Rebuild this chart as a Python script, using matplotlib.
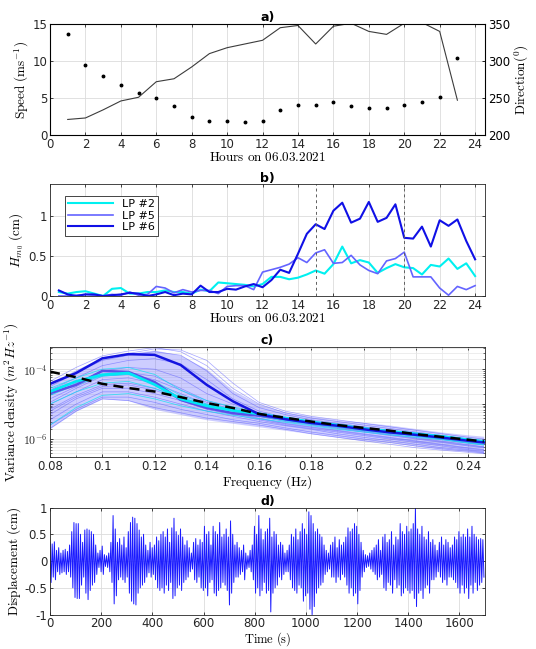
import numpy as np
import matplotlib
matplotlib.use("Agg")
import matplotlib.pyplot as plt
from matplotlib.ticker import LogLocator, MultipleLocator, FixedLocator, NullFormatter

plt.rcParams["mathtext.fontset"] = "cm"
plt.rcParams["font.family"] = "DejaVu Sans"
plt.rcParams["font.size"] = 8.5

# ---------------- a) wind speed / direction ----------------
hours_a = list(range(1, 24))
speed = [13.6, 9.5, 8.0, 6.7, 5.7, 5.0, 3.9, 2.4, 1.9, 1.9, 1.7, 1.9,
         3.4, 4.1, 4.1, 4.5, 3.9, 3.7, 3.7, 4.1, 4.4, 5.1, 10.4]
direction = [221, 223, 234, 246, 251, 272, 276, 292, 310, 318, 323, 328,
             345, 348, 323, 347, 351, 340, 336, 351, 352, 340, 247]

# ---------------- b) Hm0 at three points ----------------
hours_b = [0.5 * k for k in range(1, 49)]
lp2 = [0.05, 0.03, 0.05, 0.06, 0.03, 0.00, 0.09, 0.10, 0.03, 0.03, 0.05, 0.05,
       0.07, 0.05, 0.05, 0.03, 0.08, 0.06, 0.17, 0.16, 0.15, 0.14, 0.12, 0.15,
       0.24, 0.24, 0.21, 0.23, 0.27, 0.32, 0.28, 0.40, 0.62, 0.41, 0.45, 0.42,
       0.29, 0.35, 0.40, 0.36, 0.35, 0.27, 0.39, 0.37, 0.47, 0.34, 0.41, 0.25]
lp5 = [0.00, 0.00, 0.01, 0.02, 0.01, 0.00, 0.02, 0.01, 0.05, 0.01, 0.02, 0.12,
       0.10, 0.04, 0.08, 0.05, 0.07, 0.07, 0.03, 0.12, 0.13, 0.13, 0.08, 0.30,
       0.33, 0.36, 0.40, 0.48, 0.42, 0.54, 0.58, 0.41, 0.42, 0.51, 0.39, 0.32,
       0.28, 0.44, 0.47, 0.55, 0.24, 0.24, 0.24, 0.10, 0.01, 0.12, 0.08, 0.13]
lp6 = [0.07, 0.02, 0.00, 0.02, 0.02, 0.00, 0.01, 0.02, 0.04, 0.03, 0.00, 0.02,
       0.05, 0.01, 0.03, 0.02, 0.13, 0.05, 0.05, 0.09, 0.08, 0.12, 0.15, 0.11,
       0.20, 0.33, 0.29, 0.53, 0.78, 0.90, 0.84, 1.07, 1.17, 0.92, 0.97, 1.18,
       0.93, 0.98, 1.15, 0.73, 0.72, 0.87, 0.62, 0.95, 0.88, 0.96, 0.69, 0.46]

# ---------------- c) spectra (log10 of m^2/Hz) ----------------
freq = [0.08, 0.09, 0.10, 0.11, 0.12, 0.13, 0.14, 0.15, 0.16,
        0.17, 0.18, 0.19, 0.20, 0.21, 0.22, 0.23, 0.24, 0.246]
thin_blue = [
    [-4.35, -3.95, -3.62, -3.48, -3.38, -3.5, -3.9, -4.55, -5.0, -5.25, -5.4, -5.5, -5.6, -5.7, -5.8, -5.9, -6.0, -6.05],
    [-4.5, -4.1, -3.75, -3.6, -3.5, -3.6, -4.05, -4.7, -5.1, -5.3, -5.45, -5.55, -5.65, -5.75, -5.85, -5.95, -6.05, -6.1],
    [-4.6, -4.25, -3.9, -3.75, -3.7, -3.85, -4.3, -4.85, -5.2, -5.38, -5.5, -5.6, -5.7, -5.8, -5.9, -6.0, -6.1, -6.15],
    [-4.75, -4.4, -4.05, -3.95, -4.0, -4.25, -4.7, -5.0, -5.25, -5.4, -5.52, -5.62, -5.72, -5.82, -5.92, -6.02, -6.12, -6.17],
    [-4.85, -4.5, -4.15, -4.1, -4.2, -4.55, -4.9, -5.1, -5.3, -5.45, -5.56, -5.66, -5.76, -5.86, -5.96, -6.06, -6.16, -6.22],
    [-5.0, -4.65, -4.3, -4.25, -4.4, -4.7, -5.0, -5.2, -5.35, -5.5, -5.6, -5.7, -5.8, -5.9, -6.0, -6.1, -6.2, -6.25],
    [-5.15, -4.75, -4.45, -4.4, -4.55, -4.8, -5.05, -5.25, -5.4, -5.55, -5.65, -5.75, -5.85, -5.95, -6.05, -6.15, -6.25, -6.3],
    [-5.3, -4.85, -4.55, -4.55, -4.7, -4.9, -5.15, -5.3, -5.45, -5.6, -5.7, -5.8, -5.9, -6.0, -6.1, -6.2, -6.3, -6.35],
    [-5.45, -5.0, -4.65, -4.65, -4.8, -5.0, -5.2, -5.35, -5.5, -5.62, -5.72, -5.85, -5.95, -6.05, -6.15, -6.25, -6.32, -6.38],
    [-5.6, -5.15, -4.8, -4.8, -4.95, -5.15, -5.3, -5.45, -5.55, -5.68, -5.8, -5.9, -6.0, -6.1, -6.2, -6.28, -6.35, -6.4],
    [-4.95, -4.55, -4.2, -4.15, -4.3, -4.6, -4.95, -5.15, -5.32, -5.47, -5.58, -5.68, -5.78, -5.88, -5.98, -6.08, -6.18, -6.23],
    [-5.2, -4.8, -4.5, -4.45, -4.6, -4.85, -5.1, -5.27, -5.42, -5.57, -5.67, -5.77, -5.87, -5.97, -6.07, -6.17, -6.27, -6.32],
    [-4.45, -4.05, -3.7, -3.55, -3.42, -3.45, -3.75, -4.4, -4.95, -5.2, -5.35, -5.45, -5.55, -5.65, -5.75, -5.85, -5.95, -6.0],
    [-5.7, -5.2, -4.85, -4.9, -5.1, -5.25, -5.4, -5.5, -5.6, -5.72, -5.85, -5.95, -6.05, -6.15, -6.25, -6.32, -6.38, -6.42],
]
thin_cyan = [
    [-4.55, -4.25, -4.0, -3.95, -4.15, -4.6, -4.9, -5.08, -5.25, -5.4, -5.5, -5.6, -5.68, -5.76, -5.84, -5.9, -6.0, -6.05],
    [-4.75, -4.45, -4.2, -4.15, -4.35, -4.75, -5.0, -5.15, -5.3, -5.45, -5.55, -5.63, -5.72, -5.8, -5.88, -5.95, -6.05, -6.1],
    [-5.0, -4.65, -4.4, -4.35, -4.55, -4.85, -5.05, -5.2, -5.35, -5.48, -5.58, -5.67, -5.76, -5.84, -5.92, -6.0, -6.1, -6.15],
    [-5.6, -5.1, -4.75, -4.7, -4.85, -5.05, -5.2, -5.32, -5.42, -5.52, -5.62, -5.72, -5.8, -5.88, -5.95, -6.02, -6.12, -6.17],
]
band_hi = [-4.42, -4.05, -3.7, -3.55, -3.45, -3.6, -4.0, -4.6, -5.0, -5.22, -5.35, -5.45, -5.52, -5.6, -5.7, -5.8, -5.88, -5.92]
band_lo = [-5.7, -5.2, -4.85, -4.9, -5.15, -5.3, -5.45, -5.55, -5.65, -5.75, -5.85, -5.95, -6.05, -6.1, -6.2, -6.3, -6.35, -6.4]
spec_lp6 = [-4.42, -4.11, -3.69, -3.57, -3.59, -3.88, -4.45, -4.92, -5.29, -5.43, -5.54, -5.62, -5.72, -5.81, -5.88, -5.96, -6.05, -6.1]
spec_lp5 = [-4.69, -4.45, -4.05, -4.08, -4.37, -4.88, -5.11, -5.26, -5.33, -5.42, -5.52, -5.6, -5.7, -5.78, -5.86, -5.94, -6.03, -6.08]
spec_lp2 = [-4.64, -4.35, -4.16, -4.11, -4.44, -4.85, -5.05, -5.18, -5.28, -5.4, -5.51, -5.6, -5.7, -5.78, -5.85, -5.93, -6.02, -6.07]
spec_ref = [-4.07, -4.23, -4.42, -4.54, -4.64, -4.8, -4.97, -5.11, -5.28, -5.39, -5.5, -5.6, -5.68, -5.76, -5.86, -5.94, -6.02, -6.07]

# ---------------- d) displacement record: crest / trough of each wave ----------------
crest = [0.35, 0.32, 0.36, 0.20, 0.25, 0.15, 0.20, 0.22, 0.18, 0.30,
         0.55, 0.72, 0.70, 0.70, 0.50, 0.35, 0.58, 0.60, 0.58, 0.55,
         0.50, 0.30, 0.15, 0.20, 0.28, 0.12, 0.10, 0.15, 0.35, 0.85,
         0.60, 0.35, 0.42, 0.30, 0.45, 0.25, 0.55, 0.72, 0.82, 0.80,
         0.70, 0.58, 0.45, 0.50, 0.30, 0.20, 0.35, 0.25, 0.30, 0.45,
         0.38, 0.50, 0.55, 0.45, 0.60, 0.35, 0.62, 0.80, 0.55, 0.48,
         0.60, 0.45, 0.30, 0.38, 0.25, 0.15, 0.35, 0.42, 0.30, 0.40,
         0.35, 0.65, 0.50, 0.55, 0.30, 0.65, 0.55, 0.50, 0.72, 0.45,
         0.50, 0.60, 0.45, 0.75, 0.50, 0.30, 0.35, 0.25, 0.20, 0.30,
         0.15, 0.10, 0.20, 0.30, 0.65, 0.50, 0.85, 0.60, 0.40, 0.55,
         0.60, 0.80, 0.45, 0.55, 0.50, 0.30, 0.35, 0.30, 0.15, 0.20,
         0.30, 0.50, 0.45, 0.60, 0.40, 0.55, 0.70, 0.60, 0.50, 0.92,
         0.85, 0.70, 0.55, 0.60, 0.50, 0.45, 0.30, 0.20, 0.15, 0.30,
         0.35, 0.45, 0.25, 0.40, 0.30, 0.35, 0.45, 0.62, 0.55, 0.60,
         0.70, 0.65, 0.50, 0.35, 0.20, 0.12, 0.10, 0.15, 0.20, 0.25,
         0.30, 0.40, 0.20, 0.45, 0.50, 0.35, 0.40, 0.55, 0.30, 0.45,
         0.40, 0.70, 0.55, 0.50, 0.65, 0.55, 0.60, 0.70, 1.00, 0.60,
         0.50, 0.65, 0.45, 0.40, 0.55, 0.35, 0.40, 0.30, 0.20, 0.35,
         0.45, 0.30, 0.40, 0.35, 0.25, 0.30, 0.45, 0.40, 0.55, 0.45,
         0.50, 0.45, 0.60, 0.45, 0.65, 0.50, 0.45, 0.40, 0.42, 0.40]
trough = [-0.40, -0.30, -0.35, -0.20, -0.25, -0.22, -0.20, -0.25, -0.20, -0.30,
          -0.50, -0.68, -0.70, -0.70, -0.45, -0.30, -0.60, -0.72, -0.55, -0.45,
          -0.40, -0.25, -0.12, -0.20, -0.25, -0.10, -0.12, -0.20, -0.40, -0.80,
          -0.65, -0.35, -0.30, -0.35, -0.40, -0.30, -0.60, -0.75, -0.80, -0.82,
          -0.60, -0.50, -0.45, -0.40, -0.30, -0.22, -0.30, -0.25, -0.35, -0.50,
          -0.55, -0.50, -0.60, -0.45, -0.55, -0.40, -0.70, -0.65, -0.50, -0.45,
          -0.55, -0.40, -0.35, -0.30, -0.20, -0.15, -0.35, -0.40, -0.30, -0.50,
          -0.55, -0.50, -0.65, -0.40, -0.35, -0.60, -0.65, -0.55, -0.50, -0.40,
          -0.45, -0.55, -0.82, -0.60, -0.40, -0.30, -0.30, -0.25, -0.20, -0.35,
          -0.15, -0.12, -0.20, -0.35, -0.60, -0.50, -0.65, -0.55, -0.40, -0.60,
          -0.55, -0.95, -0.60, -0.50, -0.45, -0.30, -0.35, -0.25, -0.20, -0.20,
          -0.35, -0.50, -0.55, -0.60, -0.45, -0.50, -0.75, -0.65, -0.60, -0.90,
          -1.00, -0.85, -0.60, -0.50, -0.45, -0.40, -0.25, -0.20, -0.15, -0.30,
          -0.30, -0.40, -0.30, -0.35, -0.25, -0.30, -0.45, -0.60, -0.50, -0.65,
          -0.60, -0.80, -0.55, -0.30, -0.20, -0.12, -0.10, -0.15, -0.20, -0.25,
          -0.35, -0.30, -0.25, -0.50, -0.55, -0.40, -0.45, -0.60, -0.35, -0.50,
          -0.45, -0.65, -0.60, -0.50, -0.55, -0.60, -0.55, -0.70, -0.85, -0.60,
          -0.55, -0.70, -0.50, -0.45, -0.60, -0.35, -0.35, -0.30, -0.20, -0.30,
          -0.40, -0.35, -0.45, -0.30, -0.30, -0.35, -0.40, -0.50, -0.60, -0.45,
          -0.60, -0.50, -0.70, -0.45, -0.60, -0.40, -0.55, -0.45, -0.40, -0.30]
wave_dt = 8.5  # s per wave


def matlab_box(ax):
    ax.tick_params(direction="in", length=2.5, width=0.6, top=True, right=True,
                   colors="#262626", labelsize=8.5, pad=2)
    for s in ax.spines.values():
        s.set_color("#262626")
        s.set_linewidth(0.6)
    ax.grid(True, color="#dcdcdc", linewidth=0.6)
    ax.set_axisbelow(True)


def serif_label(txt):
    return r"$\mathrm{" + txt + "}$"


fig = plt.figure(figsize=(5.36, 6.49), dpi=100)
L, W = 0.0933, 0.8116

# a)
ax1 = fig.add_axes([L, 0.792, W, 0.171])
matlab_box(ax1)
ax1.tick_params(right=False)
ax1.plot(hours_a, speed, "o", color="black", markersize=1.8)
ax1.set_xlim(0, 24.56)
ax1.set_ylim(0, 15)
ax1.set_xticks(range(0, 25, 2))
ax1.set_yticks([0, 5, 10, 15])
ax1.set_ylabel(r"$\mathrm{Speed\ (ms^{-1})}$", fontsize=9.5, labelpad=1)
ax1.set_xlabel(serif_label(r"Hours\ on\ 06.03.2021"), fontsize=9.5, labelpad=0)
ax1.set_title("a)", fontweight="bold", fontsize=9, pad=2)
ax1b = ax1.twinx()
ax1b.plot(hours_a, direction, color="#3c3c3c", linewidth=0.8)
ax1b.set_ylim(200, 350)
ax1b.set_yticks([200, 250, 300, 350])
ax1b.tick_params(direction="in", length=2.5, width=0.6, labelsize=8.5, pad=2)
ax1b.set_ylabel(r"$\mathrm{Direction(^0)}$", fontsize=9.5, labelpad=2)

# b)
ax2 = fig.add_axes([L, 0.5439, W, 0.172])
matlab_box(ax2)
ax2.plot(hours_b, lp2, color="#00f0f0", linewidth=1.5, label="LP #2")
ax2.plot(hours_b, lp5, color="#6464ff", linewidth=1.2, label="LP #5")
ax2.plot(hours_b, lp6, color="#1010e6", linewidth=1.5, label="LP #6")
for xv in (15, 20):
    ax2.axvline(xv, color="#606060", linestyle=(0, (3, 3)), linewidth=0.7)
ax2.set_xlim(0, 24.56)
ax2.set_ylim(0, 1.4)
ax2.set_xticks(range(0, 25, 2))
ax2.set_yticks([0, 0.5, 1])
ax2.set_yticklabels(["0", "0.5", "1"])
ax2.set_ylabel(r"$H_{m_0}\ \mathrm{(cm)}$", fontsize=9.5, labelpad=2)
ax2.set_xlabel(serif_label(r"Hours\ on\ 06.03.2021"), fontsize=9.5, labelpad=0)
ax2.set_title("b)", fontweight="bold", fontsize=9, pad=2)
leg = ax2.legend(loc="upper left", bbox_to_anchor=(0.022, 0.95), fontsize=8,
                 handlelength=4, borderpad=0.3, labelspacing=0.15,
                 fancybox=False, framealpha=1, edgecolor="#262626")
leg.get_frame().set_linewidth(0.6)

# c)
ax3 = fig.add_axes([L, 0.2954, W, 0.1704])
ax3.set_yscale("log")
matlab_box(ax3)
f = np.array(freq)
ax3.fill_between(f, 10 ** np.array(band_lo), 10 ** np.array(band_hi),
                 color="#5c5cff", alpha=0.3, linewidth=0)
for row in thin_blue:
    ax3.plot(f, 10 ** np.array(row), color="#4b4bff", linewidth=0.5, alpha=0.5)
for row in thin_cyan:
    ax3.plot(f, 10 ** np.array(row), color="#00e5f0", linewidth=0.6, alpha=0.7)
ax3.plot(f, 10 ** np.array(spec_lp5), color="#5a4ee8", linewidth=1.8)
ax3.plot(f, 10 ** np.array(spec_lp2), color="#00e8f5", linewidth=2.0)
ax3.plot(f, 10 ** np.array(spec_lp6), color="#1414e0", linewidth=1.8)
ax3.plot(f, 10 ** np.array(spec_ref), color="black", linewidth=1.8,
         linestyle=(0, (4, 2.5)))
ax3.set_xlim(0.08, 0.2465)
ax3.set_ylim(3.0e-7, 4.4e-4)
ax3.xaxis.set_major_locator(FixedLocator([0.08, 0.10, 0.12, 0.14, 0.16, 0.18, 0.20, 0.22, 0.24]))
ax3.set_xticklabels(["0.08", "0.1", "0.12", "0.14", "0.16", "0.18", "0.2", "0.22", "0.24"])
ax3.xaxis.set_minor_locator(MultipleLocator(0.01))
ax3.yaxis.set_major_locator(FixedLocator([1e-6, 1e-5, 1e-4]))
ax3.set_yticklabels([r"$10^{-6}$", "", r"$10^{-4}$"])
ax3.yaxis.set_minor_locator(LogLocator(base=10, subs=np.arange(2, 10)))
ax3.yaxis.set_minor_formatter(NullFormatter())
ax3.grid(True, which="minor", color="#e6e6e6", linewidth=0.5)
ax3.tick_params(which="minor", direction="in", length=1.5, width=0.4,
                top=True, right=True)
ax3.set_ylabel(r"$\mathrm{Variance\ density}\ (m^2Hz^{-1})$", fontsize=9.5, labelpad=1)
ax3.set_xlabel(serif_label(r"Frequency\ (Hz)"), fontsize=9.5, labelpad=0)
ax3.set_title("c)", fontweight="bold", fontsize=9, pad=2)

# d)
ax4 = fig.add_axes([L, 0.053, W, 0.165])
matlab_box(ax4)
disp = np.empty(2 * len(crest))
disp[0::2] = crest
disp[1::2] = trough
t = np.arange(len(disp)) * wave_dt / 2
ax4.plot(t, disp, color="#1a1aff", linewidth=0.7)
ax4.set_xlim(0, 1700)
ax4.set_ylim(-1, 1)
ax4.set_xticks(range(0, 1700, 200))
ax4.set_yticks([-1, -0.5, 0, 0.5, 1])
ax4.set_yticklabels(["-1", "-0.5", "0", "0.5", "1"])
ax4.set_ylabel(serif_label(r"Displacement\ (cm)"), fontsize=9.5, labelpad=1)
ax4.set_xlabel(serif_label(r"Time\ (s)"), fontsize=9, labelpad=0)
ax4.set_title("d)", fontweight="bold", fontsize=9, pad=2)

fig.savefig("out.png", dpi=100)
